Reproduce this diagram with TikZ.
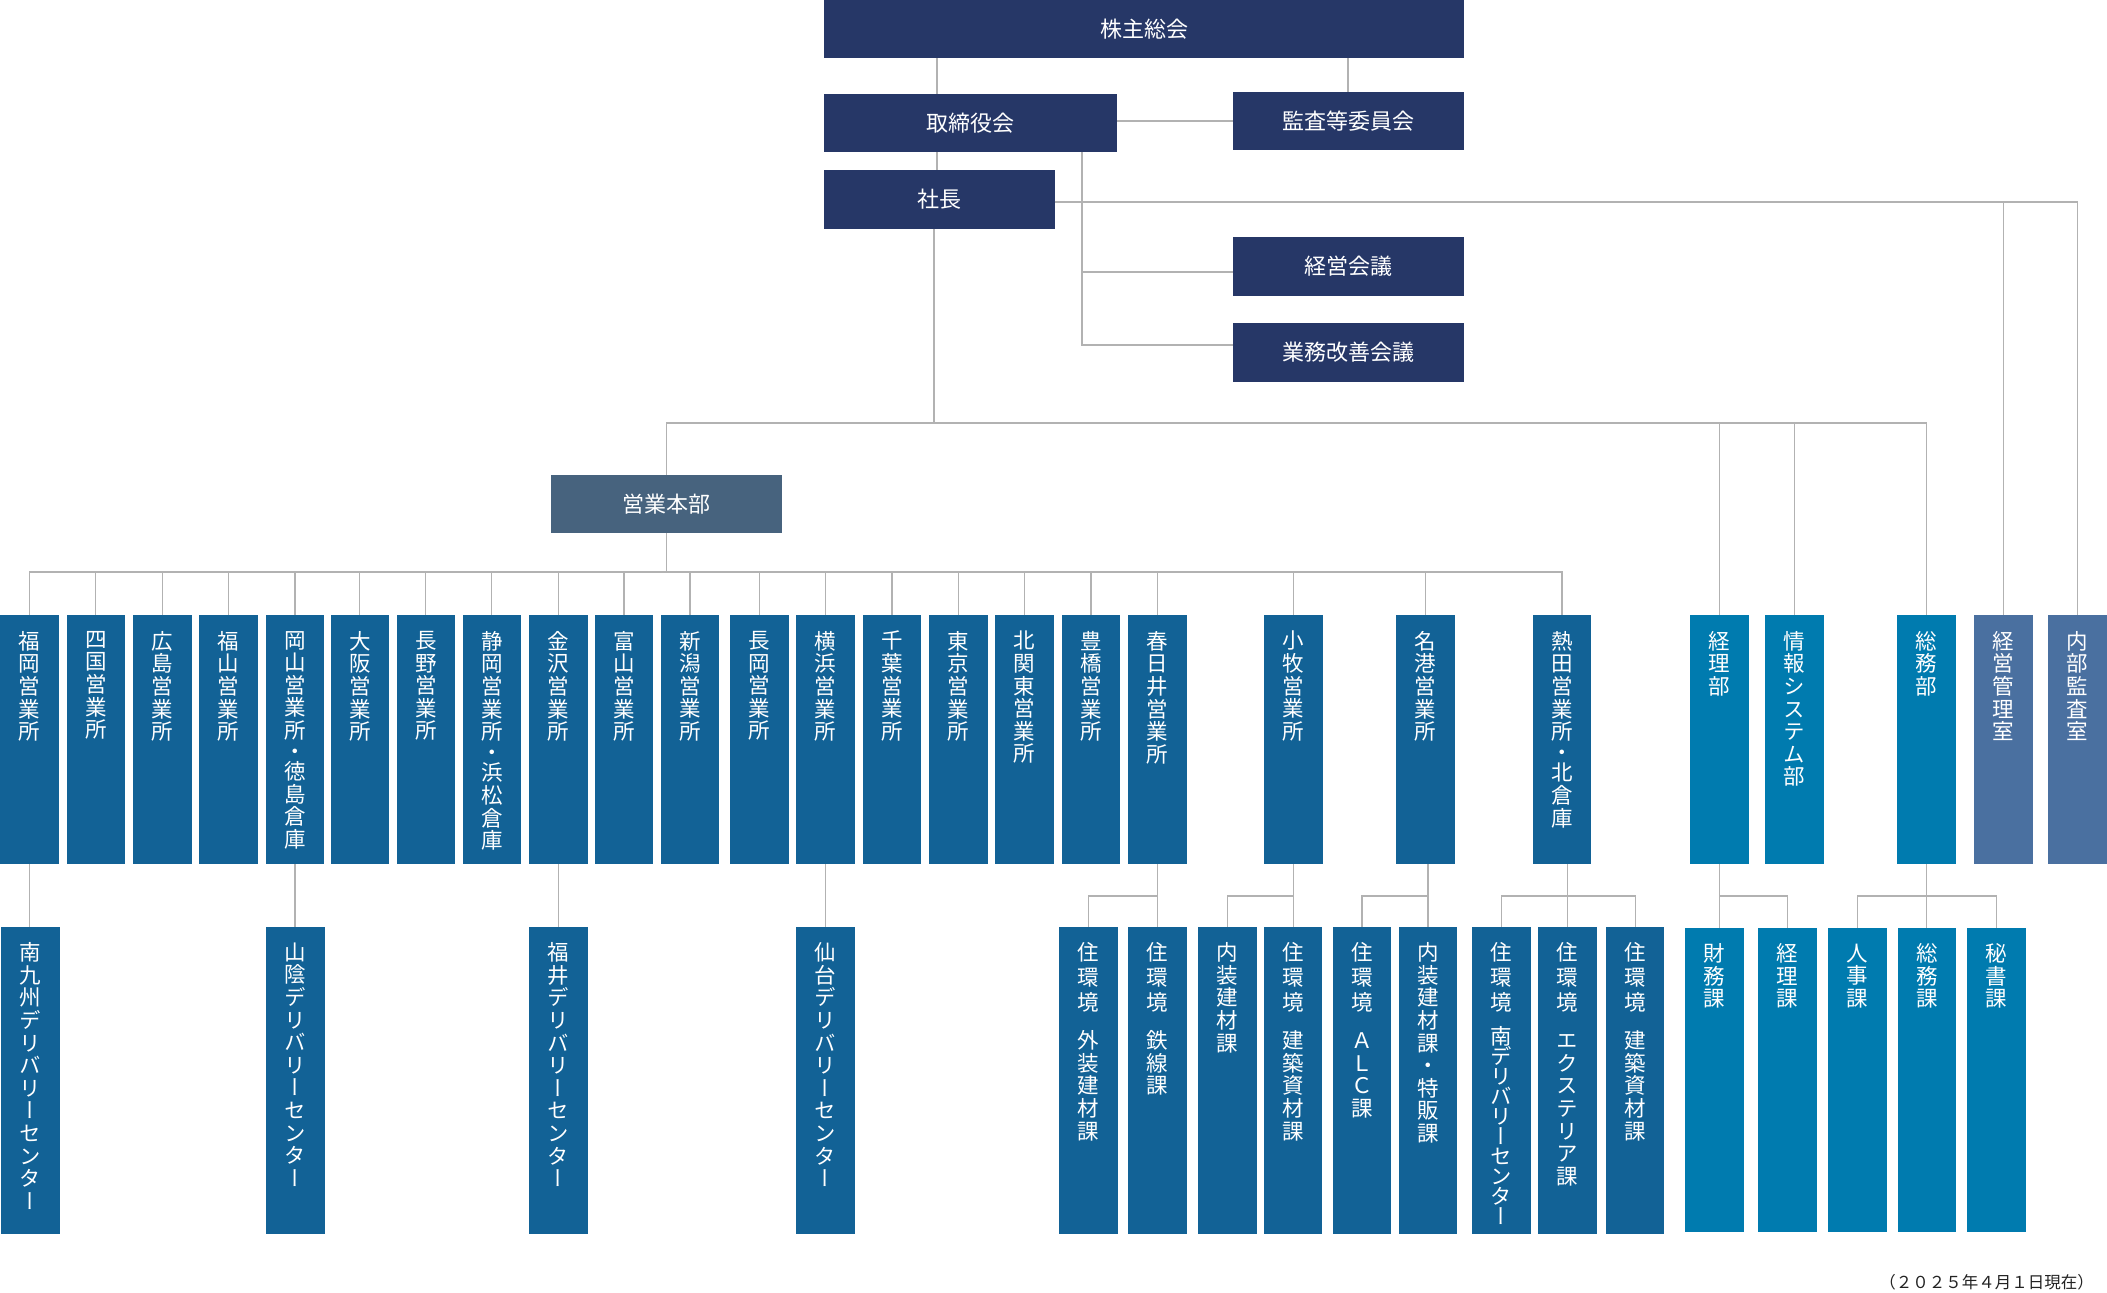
\documentclass[tikz,border=0pt]{standalone}
\usepackage{fontspec}
\setmainfont{Noto Sans CJK JP}
\newfontfamily\vjp[RawFeature=+vert]{Noto Sans CJK JP}
\definecolor{navyc}{HTML}{263767}
\definecolor{slatec}{HTML}{47637E}
\definecolor{branchc}{HTML}{126296}
\definecolor{staffc}{HTML}{007BAF}
\definecolor{mgmtc}{HTML}{4A70A0}
\definecolor{connc}{HTML}{B2B2B2}
\definecolor{datec}{HTML}{222222}
\tikzset{
  boxbase/.style={inner sep=0pt, outer sep=0pt, anchor=north west, text=white, font=\fontsize{22}{24}\selectfont},
  navybox/.style={boxbase, fill=navyc},
  hqbox/.style={boxbase, fill=slatec},
  brbox/.style={boxbase, fill=branchc},
  stbox/.style={boxbase, fill=staffc},
  mgbox/.style={boxbase, fill=mgmtc},
  vtext/.style={inner sep=0pt, anchor=north, text=white, align=center, font=\vjp\fontsize{21.5}{22.6}\selectfont},
  conn/.style={draw=connc, line width=1.2pt},
}
\newcommand\HB[7]{\node[#1, minimum width={#5-#3}, minimum height={#6-#4}] (#2) at (#3,#4) {#7};}
\newcommand\VB[7]{\node[#1, minimum width={#5-#3}, minimum height={#6-#4}] (#2) at (#3,#4) {};
  \node[vtext] (#2-t) at ([yshift=-16pt]#2.north) {#7};}
\begin{document}
\begin{tikzpicture}[x=1pt,y=-1pt]
\useasboundingbox (0,0) rectangle (2107,1293);
% top level
\HB{navybox}{kabu}{824}{0}{1464}{58}{株主総会}
\HB{navybox}{tori}{824}{94}{1117}{152}{取締役会}
\HB{navybox}{kansa}{1233}{92}{1464}{150}{監査等委員会}
\HB{navybox}{shacho}{824}{170}{1054.5}{229}{社長}
\HB{navybox}{keiei}{1233}{237}{1464}{296}{経営会議}
\HB{navybox}{gyomu}{1233}{323}{1464}{382}{業務改善会議}
\HB{hqbox}{eigyo}{551}{475}{782}{533}{営業本部}
% branch offices
\VB{brbox}{fukuoka}{0}{615}{58.6}{864}{福\\岡\\営\\業\\所}
\VB{brbox}{shikoku}{66.5}{615}{125.1}{864}{四\\国\\営\\業\\所}
\VB{brbox}{hiroshima}{133}{615}{191.6}{864}{広\\島\\営\\業\\所}
\VB{brbox}{fukuyama}{199}{615}{257.6}{864}{福\\山\\営\\業\\所}
\VB{brbox}{okayama}{265.6}{615}{324.2}{864}{岡\\山\\営\\業\\所\\[-2pt]・\\[-2pt]徳\\島\\倉\\庫}
\VB{brbox}{osaka}{330.5}{615}{389.1}{864}{大\\阪\\営\\業\\所}
\VB{brbox}{nagano}{396.5}{615}{455.1}{864}{長\\野\\営\\業\\所}
\VB{brbox}{shizuoka}{462.5}{615}{521.1}{864}{静\\岡\\営\\業\\所\\[-2pt]・\\[-2pt]浜\\松\\倉\\庫}
\VB{brbox}{kanazawa}{529}{615}{587.6}{864}{金\\沢\\営\\業\\所}
\VB{brbox}{toyama}{594.6}{615}{653.2}{864}{富\\山\\営\\業\\所}
\VB{brbox}{niigata}{660.7}{615}{719.3}{864}{新\\潟\\営\\業\\所}
\VB{brbox}{nagaoka}{730}{615}{788.6}{864}{長\\岡\\営\\業\\所}
\VB{brbox}{yokohama}{796.3}{615}{854.9}{864}{横\\浜\\営\\業\\所}
\VB{brbox}{chiba}{862.7}{615}{921.3}{864}{千\\葉\\営\\業\\所}
\VB{brbox}{tokyo}{929}{615}{987.6}{864}{東\\京\\営\\業\\所}
\VB{brbox}{kitakanto}{995.3}{615}{1053.9}{864}{北\\関\\東\\営\\業\\所}
\VB{brbox}{toyohashi}{1061.7}{615}{1120.3}{864}{豊\\橋\\営\\業\\所}
\VB{brbox}{kasugai}{1128}{615}{1186.6}{864}{春\\日\\井\\営\\業\\所}
\VB{brbox}{komaki}{1264}{615}{1322.6}{864}{小\\牧\\営\\業\\所}
\VB{brbox}{meiko}{1396}{615}{1454.6}{864}{名\\港\\営\\業\\所}
\VB{brbox}{atsuta}{1532.6}{615}{1591.2}{864}{熱\\田\\営\\業\\所\\[-2pt]・\\[-2pt]北\\倉\\庫}
% staff departments
\VB{stbox}{keiribu}{1690}{615}{1749}{864}{経\\理\\部}
\VB{stbox}{johobu}{1765}{615}{1824}{864}{情\\報\\シ\\ス\\テ\\ム\\部}
\VB{stbox}{soumubu}{1896.7}{615}{1955.7}{864}{総\\務\\部}
\VB{mgbox}{keieikanri}{1974}{615}{2032.7}{864}{経\\営\\管\\理\\室}
\VB{mgbox}{naibu}{2048}{615}{2107}{864}{内\\部\\監\\査\\室}
% lower row
\VB{brbox}{minamikyushu}{0.9}{926.5}{59.5}{1233.5}{南\\九\\州\\デ\\リ\\バ\\リ\\ー\\セ\\ン\\タ\\ー}
\VB{brbox}{sanin}{266}{926.5}{324.6}{1233.5}{山\\陰\\デ\\リ\\バ\\リ\\ー\\セ\\ン\\タ\\ー}
\VB{brbox}{fukui}{529}{926.5}{587.6}{1233.5}{福\\井\\デ\\リ\\バ\\リ\\ー\\セ\\ン\\タ\\ー}
\VB{brbox}{sendai}{796.3}{926.5}{854.9}{1233.5}{仙\\台\\デ\\リ\\バ\\リ\\ー\\セ\\ン\\タ\\ー}
\VB{brbox}{gaiso}{1059}{926.5}{1117.6}{1233.5}{住\\[2pt]環\\[2pt]境\\[16pt]外\\装\\建\\材\\課}
\VB{brbox}{tetsusen}{1128}{926.5}{1186.6}{1233.5}{住\\[2pt]環\\[2pt]境\\[16pt]鉄\\線\\課}
\VB{brbox}{naiso}{1198}{926.5}{1256.6}{1233.5}{内\\装\\建\\材\\課}
\VB{brbox}{kenchiku1}{1263.8}{926.5}{1322.4}{1233.5}{住\\[2pt]環\\[2pt]境\\[16pt]建\\築\\資\\材\\課}
\VB{brbox}{alc}{1332.6}{926.5}{1391.2}{1233.5}{住\\[2pt]環\\[2pt]境\\[16pt]Ａ\\Ｌ\\Ｃ\\課}
\VB{brbox}{tokuhan}{1398.7}{926.5}{1457.3}{1233.5}{内\\装\\建\\材\\課\\・\\特\\販\\課}
\VB{brbox}{minamidc}{1471.9}{926.5}{1530.5}{1233.5}{住\\[2pt]環\\[2pt]境\\[12pt]南\\[-2.6pt]デ\\[-2.6pt]リ\\[-2.6pt]バ\\[-2.6pt]リ\\[-2.6pt]ー\\[-2.6pt]セ\\[-2.6pt]ン\\[-2.6pt]タ\\[-2.6pt]ー}
\VB{brbox}{exterior}{1538.4}{926.5}{1597}{1233.5}{住\\[2pt]環\\[2pt]境\\[16pt]エ\\ク\\ス\\テ\\リ\\ア\\課}
\VB{brbox}{kenchiku2}{1605.8}{926.5}{1664.4}{1233.5}{住\\[2pt]環\\[2pt]境\\[16pt]建\\築\\資\\材\\課}
\VB{stbox}{zaimu}{1685}{927.5}{1743.7}{1232}{財\\務\\課}
\VB{stbox}{keirika}{1758}{927.5}{1816.7}{1232}{経\\理\\課}
\VB{stbox}{jinji}{1828}{927.5}{1886.7}{1232}{人\\事\\課}
\VB{stbox}{soumuka}{1897.7}{927.5}{1956.4}{1232}{総\\務\\課}
\VB{stbox}{hisho}{1967}{927.5}{2026}{1232}{秘\\書\\課}
% date
\node[anchor=east, inner sep=0pt, text=datec, font=\fontsize{16.5}{18}\selectfont] (date) at (2094,1282) {（２０２５年４月１日現在）};
% connectors: top
\draw[conn] (kabu.south -| 937,0) -- (tori.north -| 937,0);
\draw[conn] (kabu.south -| 1348,0) -- (kansa.north -| 1348,0);
\draw[conn] (tori.east |- kansa.west) -- (kansa.west);
\draw[conn] (tori.south -| 937,0) -- (shacho.north -| 937,0);
\coordinate (jk) at (tori.south -| 1082,0);
\draw[conn] (jk) -- (jk |- 0,345) -- (gyomu.west |- 0,345);
\draw[conn] (jk |- 0,272) -- (keiei.west |- 0,272);
\draw[conn] (shacho.east |- 0,202) -| (naibu.north);
\draw[conn] (keieikanri.north) -- (keieikanri.north |- 0,202);
% trunk
\coordinate (trunk) at (934,423);
\draw[conn] (shacho.south -| trunk) -- (trunk);
\draw[conn] (eigyo.north) |- (trunk) -- (trunk -| soumubu.north) -- (soumubu.north);
\draw[conn] (keiribu.north) -- (keiribu.north |- trunk);
\draw[conn] (johobu.north) -- (johobu.north |- trunk);
% branch bus
\coordinate (bus) at (0,572);
\draw[conn] (eigyo.south) -- (eigyo.south |- bus);
\draw[conn] (fukuoka.north) |- (atsuta.north |- bus) -- (atsuta.north);
\foreach \n in {shikoku,hiroshima,fukuyama,okayama,osaka,nagano,shizuoka,kanazawa,toyama,niigata,nagaoka,yokohama,chiba,tokyo,kitakanto,toyohashi,kasugai,komaki,meiko}
  \draw[conn] (\n.north) -- (\n.north |- bus);
% lower connectors
\foreach \a/\b in {fukuoka/minamikyushu,okayama/sanin,kanazawa/fukui,yokohama/sendai}
  \draw[conn] (\a.south) -- (\a.south |- \b.north);
\coordinate (sub) at (0,896);
\draw[conn] (kasugai.south) -- (kasugai.south |- tetsusen.north);
\draw[conn] (kasugai.south |- sub) -| (gaiso.north);
\draw[conn] (komaki.south) -- (komaki.south |- kenchiku1.north);
\draw[conn] (komaki.south |- sub) -| (naiso.north);
\draw[conn] (meiko.south -| tokuhan.north) -- (tokuhan.north);
\draw[conn] (tokuhan.north |- sub) -| (alc.north);
\draw[conn] (atsuta.south -| exterior.north) -- (exterior.north);
\draw[conn] (minamidc.north) |- (kenchiku2.north |- sub) -- (kenchiku2.north);
\draw[conn] (keiribu.south) -- (keiribu.south |- zaimu.north);
\draw[conn] (keiribu.south |- sub) -| (keirika.north);
\draw[conn] (soumubu.south) -- (soumubu.south |- soumuka.north);
\draw[conn] (jinji.north) |- (hisho.north |- sub) -- (hisho.north);
\end{tikzpicture}
\end{document}
